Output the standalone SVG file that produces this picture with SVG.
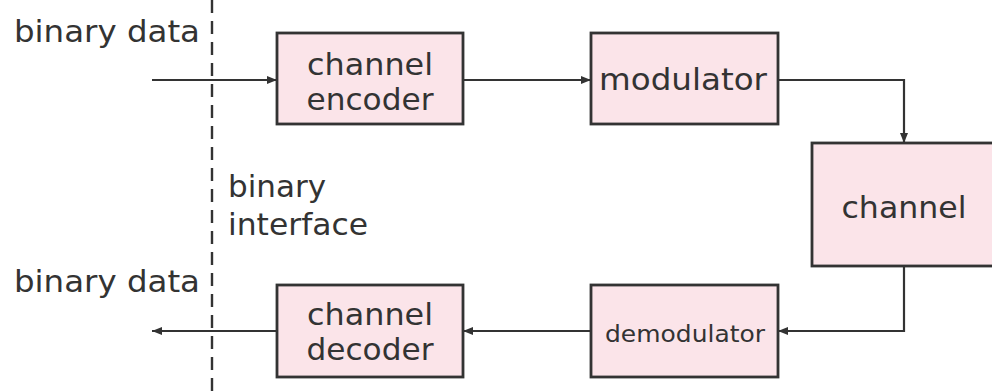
<svg xmlns="http://www.w3.org/2000/svg" width="992" height="392" viewBox="0 0 992 392">
  <style>
    .box { fill: #fbe4e9; stroke: #333; stroke-width: 2.8; }
    .lbl { font-family: "DejaVu Sans", "Liberation Sans", sans-serif; font-size: 31px; fill: #333; }
    .mid { text-anchor: middle; }
    .small { font-size: 23px; }
    .wire { fill: none; stroke: #333; stroke-width: 2.2; }
    .dash { fill: none; stroke: #333; stroke-width: 2.4; stroke-dasharray: 13 8; }
  </style>
  <defs>
    <marker id="arrow" viewBox="0 0 10 8" refX="10" refY="4" markerWidth="10" markerHeight="8" markerUnits="userSpaceOnUse" orient="auto">
      <path d="M0,0 L10,4 L0,8 Z" fill="#333"/>
    </marker>
  </defs>
  <rect width="992" height="392" fill="#fff"/>

  <!-- interface boundary -->
  <line class="dash" x1="212" y1="0" x2="212" y2="392"/>
  <text class="lbl" x="14" y="42" textLength="186" lengthAdjust="spacingAndGlyphs">binary data</text>
  <text class="lbl" x="14" y="292" textLength="186" lengthAdjust="spacingAndGlyphs">binary data</text>
  <text class="lbl" x="228" y="197">binary</text>
  <text class="lbl" x="228" y="235" textLength="140" lengthAdjust="spacingAndGlyphs">interface</text>

  <g id="connectors">
    <path class="wire" d="M152,80 H277" marker-end="url(#arrow)"/>
    <path class="wire" d="M463,80 H591" marker-end="url(#arrow)"/>
    <path class="wire" d="M778,80 H904 V143" marker-end="url(#arrow)"/>
    <path class="wire" d="M904,266 V331 H778" marker-end="url(#arrow)"/>
    <path class="wire" d="M591,331 H463" marker-end="url(#arrow)"/>
    <path class="wire" d="M277,331 H152" marker-end="url(#arrow)"/>
  </g>

  <g id="encoder">
    <rect class="box" x="277" y="33" width="186" height="91"/>
    <text class="lbl mid" x="370" y="75" textLength="126" lengthAdjust="spacingAndGlyphs">channel</text>
    <text class="lbl mid" x="370" y="110" textLength="127" lengthAdjust="spacingAndGlyphs">encoder</text>
  </g>
  <g id="modulator">
    <rect class="box" x="591" y="33" width="187" height="91"/>
    <text class="lbl mid" x="683" y="90" textLength="168" lengthAdjust="spacingAndGlyphs">modulator</text>
  </g>
  <g id="channel">
    <rect class="box" x="812" y="143" width="200" height="123"/>
    <text class="lbl mid" x="904" y="218" textLength="125" lengthAdjust="spacingAndGlyphs">channel</text>
  </g>
  <g id="demodulator">
    <rect class="box" x="591" y="285" width="187" height="92"/>
    <text class="lbl mid small" x="685" y="342" textLength="160" lengthAdjust="spacingAndGlyphs">demodulator</text>
  </g>
  <g id="decoder">
    <rect class="box" x="277" y="285" width="186" height="92"/>
    <text class="lbl mid" x="370" y="325" textLength="126" lengthAdjust="spacingAndGlyphs">channel</text>
    <text class="lbl mid" x="370" y="360" textLength="127" lengthAdjust="spacingAndGlyphs">decoder</text>
  </g>
</svg>
